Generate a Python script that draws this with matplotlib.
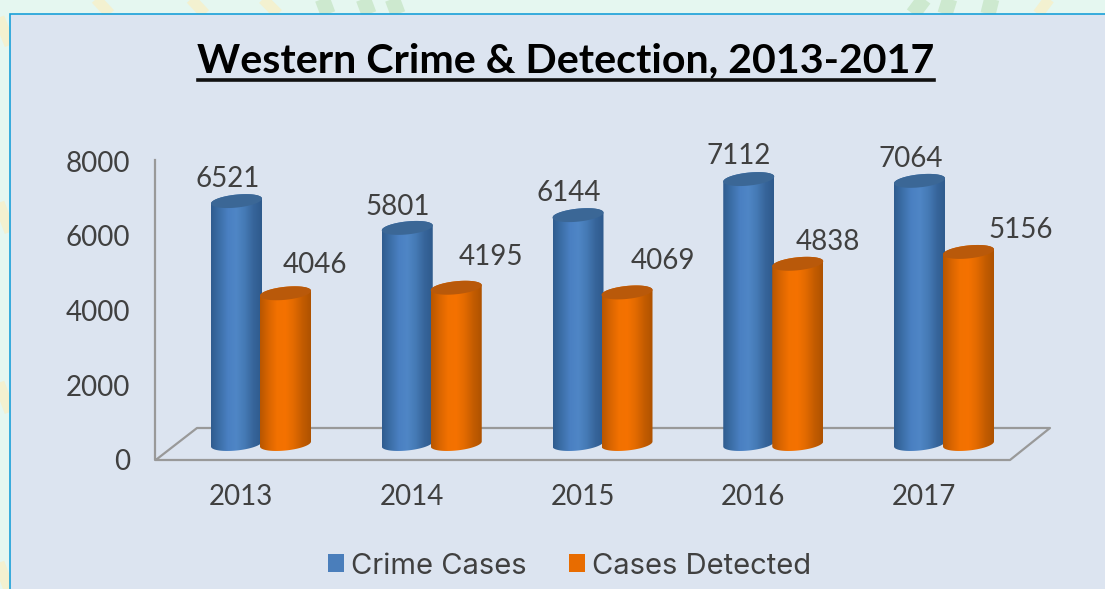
import numpy as np
import matplotlib
matplotlib.use("Agg")
import matplotlib.pyplot as plt
from matplotlib.patches import Polygon, Rectangle
from matplotlib.colors import LinearSegmentedColormap
from matplotlib.lines import Line2D

years = ["2013", "2014", "2015", "2016", "2017"]
crime_cases = [6521, 5801, 6144, 7112, 7064]
cases_detected = [4046, 4195, 4069, 4838, 5156]
y_ticks = [0, 2000, 4000, 6000, 8000]

W, H = 1105, 589
plt.rcParams["font.family"] = ["Lato", "DejaVu Sans"]
TEXT = "#404040"

fig = plt.figure(figsize=(W / 100, H / 100), dpi=100, facecolor="#E5F7F0")


def px_box(x0, y0, x1, y1):
    # pixel box (top-left origin) to figure fractions
    return [x0 / W, 1 - y1 / H, (x1 - x0) / W, (y1 - y0) / H]


# faint stripes behind the panel
bg = fig.add_axes([0, 0, 1, 1], zorder=0)
bg.set_xlim(0, W)
bg.set_ylim(H, 0)
bg.axis("off")
for xs, ys in [([95, 110], [-2, 14]), ([190, 205], [-2, 14]), ([262, 278], [-2, 14]),
               ([-2, 10], [15, 45]), ([-2, 10], [200, 232]), ([-2, 10], [380, 412]),
               ([-2, 10], [560, 592]), ([1050, 1038], [-2, 14])]:
    bg.plot(xs, ys, color="#F3F1D0", lw=8, solid_capstyle="butt", zorder=1)
for xs, ys in [([322, 328], [-2, 14]), ([363, 369], [-2, 14]), ([392, 398], [-2, 14]),
               ([925, 913], [-2, 14]), ([950, 945], [-2, 14]), ([992, 988], [-2, 14])]:
    bg.plot(xs, ys, color="#CDE9CF", lw=11, solid_capstyle="butt", zorder=1)
bg.add_patch(Rectangle((10, 13.5), 1200, 700, facecolor="#DCE4F0",
                       edgecolor="#1AA0D8", lw=1.2, zorder=5))

# wall and floor of the 3D frame
frame = fig.add_axes([0, 0, 1, 1], zorder=1)
frame.set_xlim(0, W)
frame.set_ylim(H, 0)
frame.axis("off")
frame.plot([155, 155, 1010, 1050, 197, 157], [160, 460, 460, 428, 428, 459],
           color="#999999", lw=1.6)

# plot area: value 0 sits at the foot of the cylinders, the axes run a bit below it
LEFT, RIGHT, Y0, Y8000, BOTTOM = 155, 1050, 444, 146, 465
ax = fig.add_axes(px_box(LEFT, Y8000, RIGHT, BOTTOM), zorder=2)
ax.patch.set_alpha(0)
step = 170.75
first = 261
per_px = 8000 / (Y0 - Y8000)
xlim = ((LEFT - first) / step, (RIGHT - first) / step)
ylim = (-(BOTTOM - Y0) * per_px, 8000)
for s in ax.spines.values():
    s.set_visible(False)

x = np.arange(len(years))
bar_w = 51 / step
shift = 24.5 / step
ell_h = 13 * per_px
ell_tilt = 2.5 * per_px

blue_map = LinearSegmentedColormap.from_list(
    "b", ["#2F5C8F", "#3C6FA8", "#4A80C2", "#4F86C6", "#457AB5", "#37659B", "#2E5A8C"])
orange_map = LinearSegmentedColormap.from_list(
    "o", ["#B85600", "#D96500", "#F27100", "#F57200", "#E26A00", "#C45C00", "#AE5200"])
grad = np.linspace(0, 1, 128).reshape(1, -1)


def ring(cx, level, t):
    return (cx + bar_w / 2 * np.cos(t),
            level + ell_h / 2 * np.sin(t) + ell_tilt * np.cos(t))


def cylinder(cx, val, cmap, top_color, z):
    xb, yb = ring(cx, 0, np.linspace(np.pi, 2 * np.pi, 60))
    xt, yt = ring(cx, val, np.linspace(0, np.pi, 60))
    body = Polygon(np.column_stack([np.r_[xb, xt], np.r_[yb, yt]]),
                   facecolor="none", edgecolor="none", zorder=z)
    ax.add_patch(body)
    im = ax.imshow(grad, cmap=cmap, aspect="auto", zorder=z,
                   extent=(cx - bar_w / 2, cx + bar_w / 2, -ell_h, val + ell_h))
    im.set_clip_path(body)
    xr, yr = ring(cx, val, np.linspace(0, 2 * np.pi, 100))
    ax.add_patch(Polygon(np.column_stack([xr, yr]), facecolor=top_color,
                         edgecolor="none", zorder=z + 0.1))


for i in x:
    cylinder(i - shift, crime_cases[i], blue_map, "#3B6796", 3)
    cylinder(i + shift, cases_detected[i], orange_map, "#B9590A", 4)
ax.set_xlim(xlim)
ax.set_ylim(ylim)

# value labels, offsets in pixels from the top of each cylinder
crime_off = [(-9, 22), (-10, 21), (-9, 22), (-10, 23), (-9, 22)]
det_off = [(29, 28), (35, 31), (36, 31), (30, 22), (52, 22)]
for i in x:
    ax.annotate(str(crime_cases[i]), (i - shift, crime_cases[i]),
                xytext=crime_off[i], textcoords="offset pixels", ha="center", va="center",
                fontsize=20, color=TEXT, zorder=6, annotation_clip=False)
    ax.annotate(str(cases_detected[i]), (i + shift, cases_detected[i]),
                xytext=det_off[i], textcoords="offset pixels", ha="center", va="center",
                fontsize=20, color=TEXT, zorder=6, annotation_clip=False)

# ticks, sitting on the front of the floor rather than on the value scale
ax.set_yticks(y_ticks)
ax.set_yticklabels([str(v) for v in y_ticks], fontsize=20, color=TEXT)
ax.set_xticks(x - 0.117)
ax.set_xticklabels(years, fontsize=20, color=TEXT)
ax.tick_params(axis="both", length=0)
ax.tick_params(axis="y", pad=18)
ax.tick_params(axis="x", pad=14)
offset = matplotlib.transforms.ScaledTranslation(0, -15.5 / 100, fig.dpi_scale_trans)
for lab in ax.get_yticklabels():
    lab.set_transform(lab.get_transform() + offset)

# title with underline
fig.text(566 / W, 1 - 61 / H, "Western Crime & Detection, 2013-2017",
         fontsize=29.6, fontweight="bold", color="black", ha="center", va="center")
fig.add_artist(Line2D([198 / W, 934 / W], [1 - 79.5 / H, 1 - 79.5 / H], color="#111111", lw=2.6))

# legend, Inter here because its letters run as wide as the original's
handles = [Rectangle((0, 0), 1, 1, facecolor="#4A7EBB"), Rectangle((0, 0), 1, 1, facecolor="#E86C00")]
fig.legend(handles, ["Crime Cases", "Cases Detected"], loc="center",
           bbox_to_anchor=(569.5 / W, 1 - 566 / H), ncol=2, frameon=False,
           prop={"family": "Inter", "size": 21}, labelcolor=TEXT,
           handlelength=0.55, handleheight=0.55, handletextpad=0.24, columnspacing=1.43)

fig.savefig("out.png", dpi=100)
